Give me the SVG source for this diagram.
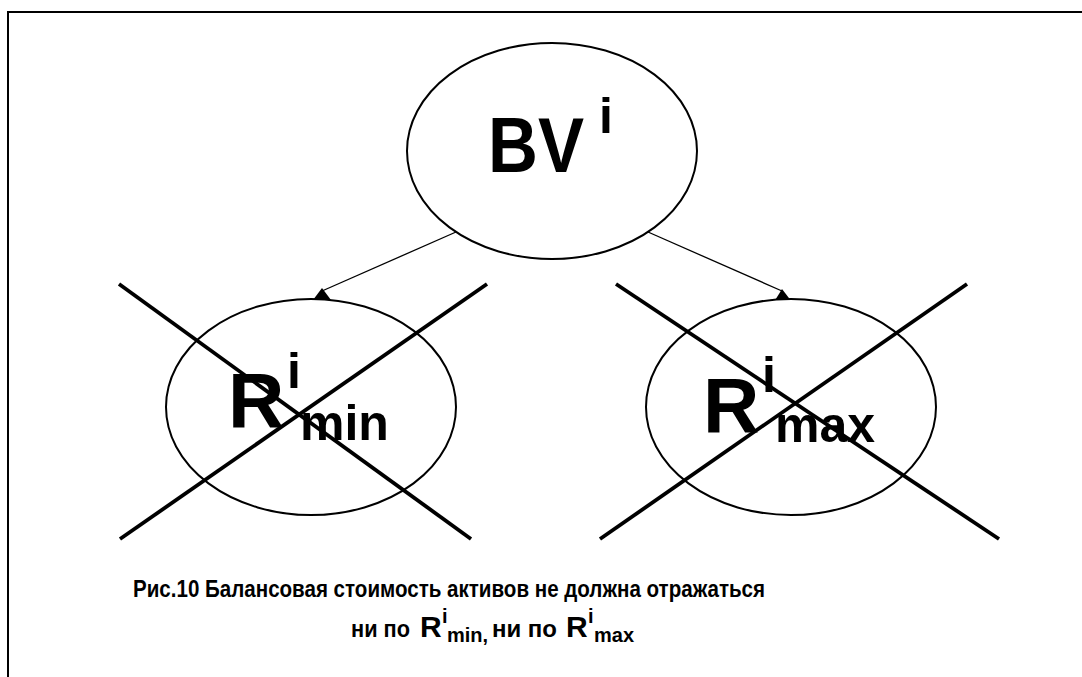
<svg xmlns="http://www.w3.org/2000/svg" width="1082" height="677" viewBox="0 0 1082 677">
  <style>
    .node { fill: #ffffff; stroke: #000000; stroke-width: 2; }
    .lbl { font-family: "Liberation Sans", Arial, sans-serif; font-weight: bold; fill: #000000; }
    .big { font-size: 78px; }
    .idx { font-size: 50px; }
    .cross { stroke: #000000; stroke-width: 3.8; stroke-linecap: butt; }
    .edge { stroke: #000000; stroke-width: 1.3; fill: none; }
    .head { fill: #000000; stroke: none; }
    .cap { font-size: 24px; }
    .capR { font-size: 30px; }
    .capIdx { font-size: 20px; }
  </style>

  <rect x="0" y="0" width="1082" height="677" fill="#ffffff"/>

  <!-- frame (top and left edges) -->
  <path d="M8,677 V12 H1082" fill="none" stroke="#000000" stroke-width="2"/>

  <!-- connectors -->
  <g id="connectors">
    <line class="edge" x1="456" y1="232" x2="322" y2="291"/>
    <polygon class="head" points="322,288 313,300 331,300"/>
    <line class="edge" x1="648" y1="232" x2="782" y2="291"/>
    <polygon class="head" points="782,289 774,302 792,302"/>
  </g>

  <!-- book value node -->
  <g id="node-bv">
    <ellipse class="node" cx="552" cy="151" rx="145" ry="108"/>
    <text class="lbl big" x="488" y="172" textLength="96" lengthAdjust="spacingAndGlyphs">BV</text>
    <text class="lbl idx" x="599" y="133">i</text>
  </g>

  <!-- R min node, crossed out -->
  <g id="node-rmin">
    <ellipse class="node" cx="311" cy="407" rx="145" ry="108"/>
    <text class="lbl big" x="228" y="427">R</text>
    <text class="lbl idx" x="287" y="388">i</text>
    <text class="lbl idx" x="300" y="440">min</text>
    <line class="cross" x1="119" y1="284" x2="471" y2="539"/>
    <line class="cross" x1="487" y1="284" x2="120" y2="539"/>
  </g>

  <!-- R max node, crossed out -->
  <g id="node-rmax">
    <ellipse class="node" cx="791" cy="407" rx="145" ry="108"/>
    <text class="lbl big" x="703" y="432">R</text>
    <text class="lbl idx" x="762" y="392">i</text>
    <text class="lbl idx" x="775" y="442">max</text>
    <line class="cross" x1="616" y1="284" x2="999" y2="539"/>
    <line class="cross" x1="967" y1="284" x2="600" y2="539"/>
  </g>

  <!-- caption -->
  <g id="caption">
    <text class="lbl cap" x="133" y="597" textLength="632" lengthAdjust="spacingAndGlyphs">Рис.10 Балансовая стоимость активов не должна отражаться</text>
    <text class="lbl cap" x="351" y="637" textLength="59" lengthAdjust="spacingAndGlyphs">ни по</text>
    <text class="lbl capR" x="420" y="637">R</text>
    <text class="lbl capIdx" x="442" y="623">i</text>
    <text class="lbl capIdx" x="447" y="642">min,</text>
    <text class="lbl cap" x="492" y="637" textLength="65" lengthAdjust="spacingAndGlyphs">ни по</text>
    <text class="lbl capR" x="566" y="637">R</text>
    <text class="lbl capIdx" x="588" y="623">i</text>
    <text class="lbl capIdx" x="594" y="642">max</text>
  </g>
</svg>
